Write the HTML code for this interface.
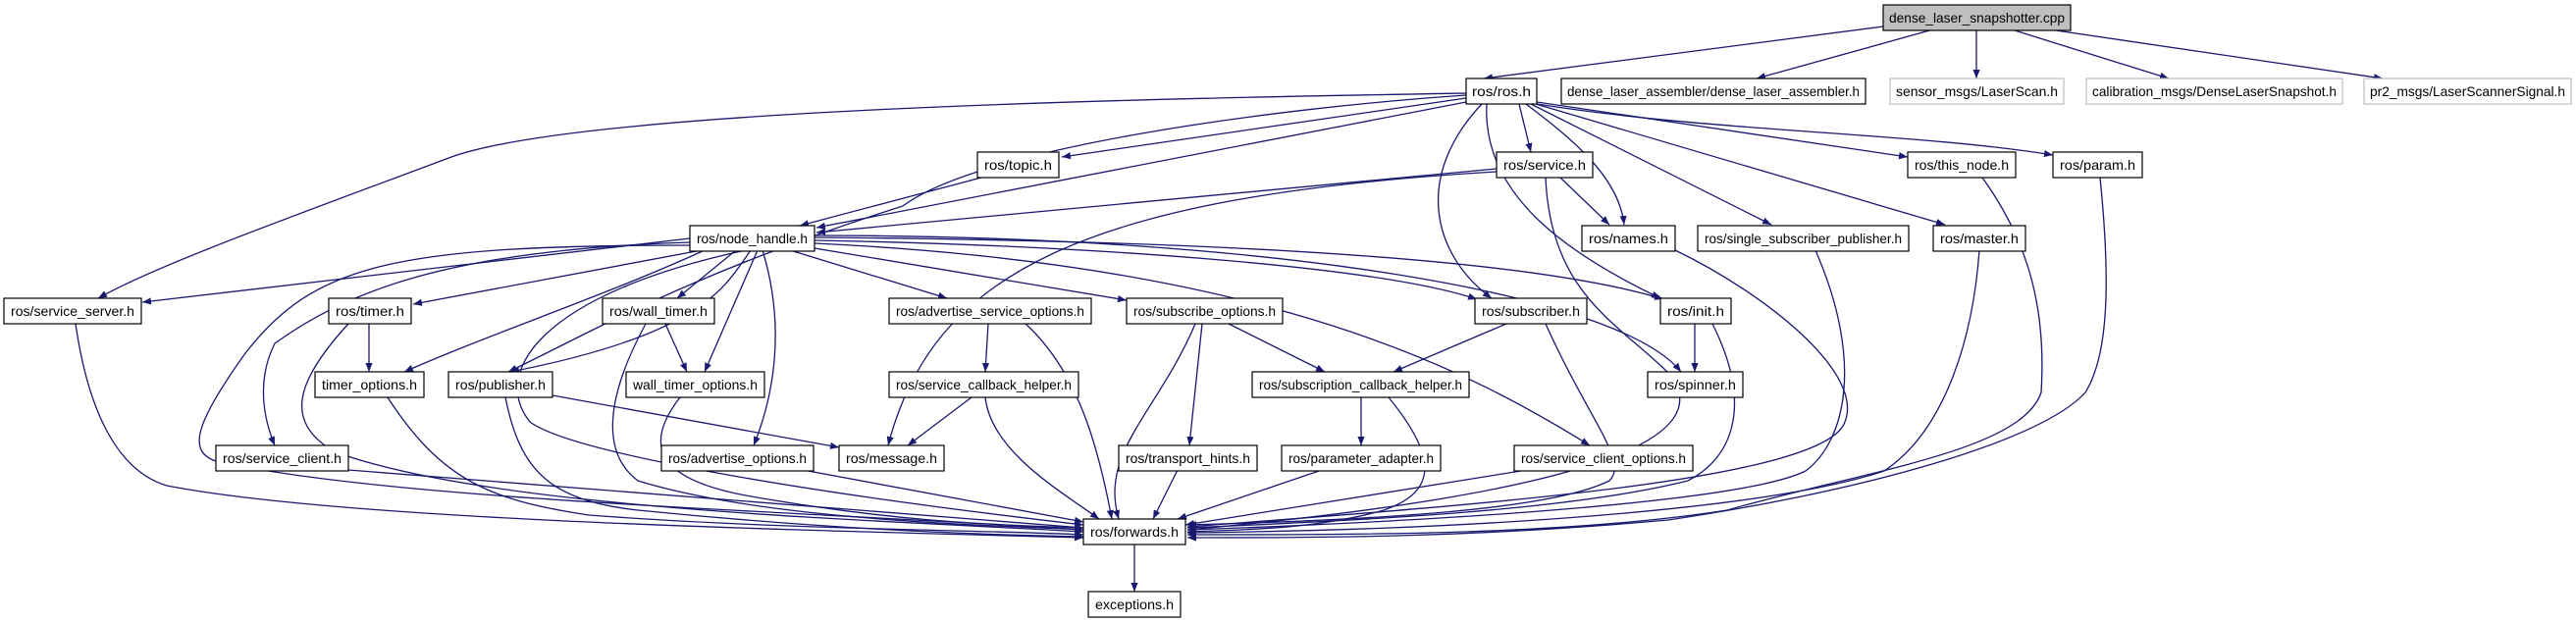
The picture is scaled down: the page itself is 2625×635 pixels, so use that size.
<!DOCTYPE html>
<html><head><meta charset="utf-8"><style>
html,body{margin:0;padding:0;background:#fff;}
svg{display:block;}
text{font-family:"Liberation Sans",sans-serif;font-size:14px;fill:#000;}
.e{fill:none;stroke:#191970;stroke-width:1.3;}
.n{fill:#fff;stroke:#000;stroke-width:1.2;}
.g{fill:#fff;stroke:#bfbfbf;stroke-width:1.2;}
</style></head><body>
<svg width="2625" height="635" viewBox="0 0 2625 635" xmlns="http://www.w3.org/2000/svg">
<defs><marker id="a" viewBox="0 0 10 10" refX="10" refY="5" markerWidth="9" markerHeight="9" markerUnits="userSpaceOnUse" orient="auto"><path d="M0,1 L10,5 L0,9 z" fill="#191970"/></marker></defs>
<g marker-end="url(#a)">
<path class="e" d="M1919,27 L1512,80"/>
<path class="e" d="M1970,30 L1790,80"/>
<path class="e" d="M2014,31 L2014,80"/>
<path class="e" d="M2053,31 L2210,80"/>
<path class="e" d="M2095,31 L2428,80"/>
<path class="e" d="M1494,95 C1200,100 600,110 460,160 C300,220 160,270 100,304"/>
<path class="e" d="M1494,97 C1300,110 1000,150 920,210 C700,280 600,340 518,379"/>
<path class="e" d="M1494,100 L1082,160"/>
<path class="e" d="M1494,104 L832,232"/>
<path class="e" d="M1548,106 L1560,155"/>
<path class="e" d="M1555,106 C1600,140 1650,180 1655,229"/>
<path class="e" d="M1560,106 L1805,229"/>
<path class="e" d="M1565,106 L1982,229"/>
<path class="e" d="M1566,104 L1944,160"/>
<path class="e" d="M1566,106 C1750,135 1950,135 2092,158"/>
<path class="e" d="M1510,106 C1440,180 1460,260 1520,304"/>
<path class="e" d="M1515,106 C1510,200 1600,260 1692,304"/>
<path class="e" d="M1000,181 L815,230"/>
<path class="e" d="M1525,172 L832,237"/>
<path class="e" d="M1590,181 L1640,229"/>
<path class="e" d="M1525,175 C1100,200 950,280 905,454"/>
<path class="e" d="M1575,181 C1580,300 1650,330 1700,380 C1750,440 1650,500 1210,540"/>
<path class="e" d="M2020,181 C2070,250 2085,320 2080,400 C2060,460 1900,480 1760,520 C1600,545 1400,545 1210,545"/>
<path class="e" d="M2140,181 C2150,280 2150,360 2125,400 C2080,450 1900,500 1700,530 C1500,548 1350,548 1210,548"/>
<path class="e" d="M1707,255 C1800,300 1900,380 1880,430 C1860,490 1500,515 1210,537"/>
<path class="e" d="M1850,255 C1900,370 1880,450 1840,480 C1780,510 1500,530 1210,540"/>
<path class="e" d="M2017,255 C2010,350 1980,440 1920,480 C1800,520 1500,540 1210,543"/>
<path class="e" d="M1535,330 L1420,379"/>
<path class="e" d="M1575,330 C1620,430 1660,470 1640,490 C1580,520 1400,530 1210,535"/>
<path class="e" d="M1727,330 L1727,379"/>
<path class="e" d="M1745,330 C1790,420 1760,470 1720,490 C1600,520 1400,530 1210,538"/>
<path class="e" d="M703,243 L145,308"/>
<path class="e" d="M715,255 L421,310"/>
<path class="e" d="M750,255 L690,304"/>
<path class="e" d="M765,255 C740,290 720,340 520,379"/>
<path class="e" d="M772,255 L718,379"/>
<path class="e" d="M777,255 C800,330 790,400 768,454"/>
<path class="e" d="M805,255 L965,304"/>
<path class="e" d="M830,253 L1148,306"/>
<path class="e" d="M830,245 C1100,250 1400,270 1505,305"/>
<path class="e" d="M830,242 C1200,245 1550,260 1695,305"/>
<path class="e" d="M830,240 C1300,240 1650,300 1713,379"/>
<path class="e" d="M830,248 C1300,270 1500,380 1620,454"/>
<path class="e" d="M703,247 C450,255 350,300 280,350 C260,390 270,430 280,454"/>
<path class="e" d="M718,255 C620,300 500,340 412,379"/>
<path class="e" d="M703,250 C400,250 320,270 250,360 C200,430 190,460 220,470 C400,510 800,520 1104,540"/>
<path class="e" d="M760,255 C550,300 500,380 540,430 C580,460 800,500 1104,535"/>
<path class="e" d="M376,330 L376,379"/>
<path class="e" d="M355,330 C300,390 290,430 340,460 C500,520 900,530 1104,542"/>
<path class="e" d="M678,330 L700,379"/>
<path class="e" d="M658,330 C620,400 610,460 650,490 C780,530 1000,535 1104,540"/>
<path class="e" d="M1007,330 L1004,379"/>
<path class="e" d="M1045,330 C1100,380 1120,460 1133,529"/>
<path class="e" d="M1225,330 L1212,454"/>
<path class="e" d="M1252,330 L1350,379"/>
<path class="e" d="M1218,330 C1180,420 1120,460 1140,529"/>
<path class="e" d="M990,405 L925,454"/>
<path class="e" d="M1004,405 C1010,460 1080,500 1120,529"/>
<path class="e" d="M1387,405 L1387,454"/>
<path class="e" d="M1415,405 C1460,460 1470,500 1410,520 C1340,540 1260,540 1210,542"/>
<path class="e" d="M77,330 C90,420 120,480 170,495 C350,530 800,540 1104,548"/>
<path class="e" d="M395,405 C450,490 500,510 600,525 C800,540 1000,540 1104,545"/>
<path class="e" d="M563,403 L855,456"/>
<path class="e" d="M515,405 C530,480 560,510 650,520 C850,540 1000,545 1104,547"/>
<path class="e" d="M693,405 C650,460 680,490 760,505 C900,530 1000,535 1104,538"/>
<path class="e" d="M355,479 L1104,538"/>
<path class="e" d="M818,479 L1104,532"/>
<path class="e" d="M1200,479 L1175,529"/>
<path class="e" d="M1347,479 L1200,529"/>
<path class="e" d="M1556,479 L1208,535"/>
<path class="e" d="M1156,555 L1156,603"/>
</g>
<g>
<rect x="1919" y="5" width="191" height="26" fill="#bfbfbf" stroke="#000" stroke-width="1.2"/>
<text x="1925" y="23" textLength="179" lengthAdjust="spacingAndGlyphs">dense_laser_snapshotter.cpp</text>
<rect class="g" x="1926" y="80" width="177" height="26"/><text x="1932" y="98" textLength="165" lengthAdjust="spacingAndGlyphs">sensor_msgs/LaserScan.h</text>
<rect class="g" x="2126" y="80" width="261" height="26"/><text x="2132" y="98" textLength="249" lengthAdjust="spacingAndGlyphs">calibration_msgs/DenseLaserSnapshot.h</text>
<rect class="g" x="2409" y="80" width="211" height="26"/><text x="2415" y="98" textLength="199" lengthAdjust="spacingAndGlyphs">pr2_msgs/LaserScannerSignal.h</text>
</g>
<g>
<rect class="n" x="1494" y="80" width="72" height="26"/><text x="1500" y="98" textLength="60" lengthAdjust="spacingAndGlyphs">ros/ros.h</text>
<rect class="n" x="1591" y="80" width="310" height="26"/><text x="1597" y="98" textLength="298" lengthAdjust="spacingAndGlyphs">dense_laser_assembler/dense_laser_assembler.h</text>
<rect class="n" x="996" y="155" width="83" height="26"/><text x="1003" y="173" textLength="69" lengthAdjust="spacingAndGlyphs">ros/topic.h</text>
<rect class="n" x="1525" y="155" width="98" height="26"/><text x="1532" y="173" textLength="84" lengthAdjust="spacingAndGlyphs">ros/service.h</text>
<rect class="n" x="1944" y="155" width="110" height="26"/><text x="1951" y="173" textLength="96" lengthAdjust="spacingAndGlyphs">ros/this_node.h</text>
<rect class="n" x="2092" y="155" width="91" height="26"/><text x="2099" y="173" textLength="77" lengthAdjust="spacingAndGlyphs">ros/param.h</text>
<rect class="n" x="703" y="230" width="127" height="26"/><text x="710" y="248" textLength="113" lengthAdjust="spacingAndGlyphs">ros/node_handle.h</text>
<rect class="n" x="1612" y="230" width="95" height="26"/><text x="1619" y="248" textLength="81" lengthAdjust="spacingAndGlyphs">ros/names.h</text>
<rect class="n" x="1730" y="230" width="215" height="26"/><text x="1737" y="248" textLength="201" lengthAdjust="spacingAndGlyphs">ros/single_subscriber_publisher.h</text>
<rect class="n" x="1970" y="230" width="94" height="26"/><text x="1977" y="248" textLength="80" lengthAdjust="spacingAndGlyphs">ros/master.h</text>
<rect class="n" x="4" y="304" width="140" height="26"/><text x="11" y="322" textLength="126" lengthAdjust="spacingAndGlyphs">ros/service_server.h</text>
<rect class="n" x="335" y="304" width="84" height="26"/><text x="342" y="322" textLength="70" lengthAdjust="spacingAndGlyphs">ros/timer.h</text>
<rect class="n" x="614" y="304" width="114" height="26"/><text x="621" y="322" textLength="100" lengthAdjust="spacingAndGlyphs">ros/wall_timer.h</text>
<rect class="n" x="906" y="304" width="206" height="26"/><text x="913" y="322" textLength="192" lengthAdjust="spacingAndGlyphs">ros/advertise_service_options.h</text>
<rect class="n" x="1148" y="304" width="159" height="26"/><text x="1155" y="322" textLength="145" lengthAdjust="spacingAndGlyphs">ros/subscribe_options.h</text>
<rect class="n" x="1503" y="304" width="114" height="26"/><text x="1510" y="322" textLength="100" lengthAdjust="spacingAndGlyphs">ros/subscriber.h</text>
<rect class="n" x="1692" y="304" width="72" height="26"/><text x="1699" y="322" textLength="58" lengthAdjust="spacingAndGlyphs">ros/init.h</text>
<rect class="n" x="321" y="379" width="111" height="26"/><text x="328" y="397" textLength="97" lengthAdjust="spacingAndGlyphs">timer_options.h</text>
<rect class="n" x="457" y="379" width="106" height="26"/><text x="464" y="397" textLength="92" lengthAdjust="spacingAndGlyphs">ros/publisher.h</text>
<rect class="n" x="638" y="379" width="141" height="26"/><text x="645" y="397" textLength="127" lengthAdjust="spacingAndGlyphs">wall_timer_options.h</text>
<rect class="n" x="906" y="379" width="193" height="26"/><text x="913" y="397" textLength="179" lengthAdjust="spacingAndGlyphs">ros/service_callback_helper.h</text>
<rect class="n" x="1276" y="379" width="221" height="26"/><text x="1283" y="397" textLength="207" lengthAdjust="spacingAndGlyphs">ros/subscription_callback_helper.h</text>
<rect class="n" x="1679" y="379" width="97" height="26"/><text x="1686" y="397" textLength="83" lengthAdjust="spacingAndGlyphs">ros/spinner.h</text>
<rect class="n" x="220" y="454" width="135" height="26"/><text x="227" y="472" textLength="121" lengthAdjust="spacingAndGlyphs">ros/service_client.h</text>
<rect class="n" x="674" y="454" width="155" height="26"/><text x="681" y="472" textLength="141" lengthAdjust="spacingAndGlyphs">ros/advertise_options.h</text>
<rect class="n" x="855" y="454" width="107" height="26"/><text x="862" y="472" textLength="93" lengthAdjust="spacingAndGlyphs">ros/message.h</text>
<rect class="n" x="1140" y="454" width="141" height="26"/><text x="1147" y="472" textLength="127" lengthAdjust="spacingAndGlyphs">ros/transport_hints.h</text>
<rect class="n" x="1306" y="454" width="162" height="26"/><text x="1313" y="472" textLength="148" lengthAdjust="spacingAndGlyphs">ros/parameter_adapter.h</text>
<rect class="n" x="1543" y="454" width="182" height="26"/><text x="1550" y="472" textLength="168" lengthAdjust="spacingAndGlyphs">ros/service_client_options.h</text>
<rect class="n" x="1104" y="529" width="104" height="26"/><text x="1111" y="547" textLength="90" lengthAdjust="spacingAndGlyphs">ros/forwards.h</text>
<rect class="n" x="1109" y="603" width="94" height="26"/><text x="1116" y="621" textLength="80" lengthAdjust="spacingAndGlyphs">exceptions.h</text>
</g>
</svg>
</body></html>
